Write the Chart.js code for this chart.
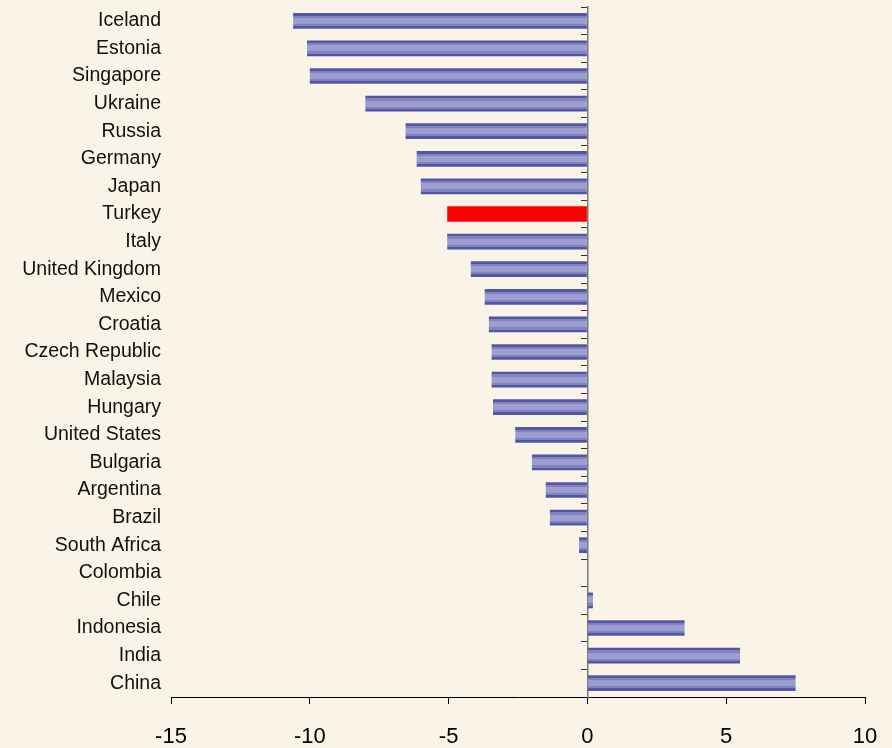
<!DOCTYPE html>
<html>
<script src="https://cdn.jsdelivr.net/npm/chart.js@4.4.1/dist/chart.umd.min.js"></script>
<body style="margin:0; background:#f9f3e8;">
  <div style="width:892px; height:748px; position:relative;">
    <canvas id="chart"></canvas>
  </div>
  <script>
    const countries = ["Iceland", "Estonia", "Singapore", "Ukraine", "Russia", "Germany", "Japan", "Turkey",
      "Italy", "United Kingdom", "Mexico", "Croatia", "Czech Republic", "Malaysia", "Hungary", "United States",
      "Bulgaria", "Argentina", "Brazil", "South Africa", "Colombia", "Chile", "Indonesia", "India", "China"];
    const values = [-10.6, -10.1, -10.0, -8.0, -6.55, -6.15, -6.0, -5.05,
      -5.05, -4.2, -3.7, -3.55, -3.45, -3.45, -3.4, -2.6,
      -2.0, -1.5, -1.35, -0.3, 0, 0.2, 3.5, 5.5, 7.5];
    const highlight = "Turkey";
    const xTicks = [-15, -10, -5, 0, 5, 10];

    const dark = "#5256a3", mid = "#8083bd", light = "#9c9ecf";

    function barFill(ctx) {
      if (ctx.type !== "data") return light;
      if (countries[ctx.dataIndex] === highlight) return "#ff0000";
      const chart = ctx.chart;
      const ys = chart.scales.y;
      if (!ys || !chart.chartArea) return light;
      const yc = ys.getPixelForValue(ctx.dataIndex);
      const half = ys.height / countries.length * 0.57 / 2;
      const g = chart.ctx.createLinearGradient(0, yc - half, 0, yc + half);
      g.addColorStop(0, dark); g.addColorStop(0.17, dark);
      g.addColorStop(0.17, mid); g.addColorStop(0.31, mid);
      g.addColorStop(0.31, light); g.addColorStop(0.69, light);
      g.addColorStop(0.69, mid); g.addColorStop(0.83, mid);
      g.addColorStop(0.83, dark); g.addColorStop(1, dark);
      return g;
    }

    const font = "'Liberation Sans', Arial, sans-serif";

    new Chart("chart", {
      type: "bar",
      data: {
        labels: countries,
        datasets: [{
          data: values,
          backgroundColor: barFill,
          borderWidth: 0,
          categoryPercentage: 1,
          barPercentage: 0.57,
        }],
      },
      options: {
        indexAxis: "y",
        responsive: true,
        maintainAspectRatio: false,
        animation: false,
        layout: { padding: { left: 6, right: 27, top: 7, bottom: 0 } },
        plugins: { legend: { display: false }, tooltip: { enabled: false } },
        scales: {
          x: {
            min: -15,
            max: 10,
            afterBuildTicks: (s) => { s.ticks = xTicks.map((v) => ({ value: v })); },
            afterFit: (s) => { s.height = 51; s.paddingLeft = 0; s.paddingRight = 0; },
            grid: { drawOnChartArea: false, drawTicks: true, tickLength: 7, color: "#000" },
            border: { display: true, color: "#000", width: 1 },
            ticks: { color: "#000", padding: 20, font: { family: font, size: 22 } },
          },
          y: {
            grid: { display: false, drawTicks: false },
            border: { display: false },
            afterFit: (s) => { s.width = 165; s.paddingTop = 0; s.paddingBottom = 0; },
            ticks: { color: "#111", padding: 10, font: { family: font, size: 19.5 } },
          },
          y2: {
            type: "category",
            labels: countries,
            position: { x: 0 },
            offset: true,
            grid: { offset: true, drawOnChartArea: false, drawTicks: true, tickLength: 6, color: "#333" },
            border: { display: true, color: "#7a7a7a", width: 1.5 },
            ticks: { display: false },
          },
        },
      },
    });
  </script>
</body>
</html>
